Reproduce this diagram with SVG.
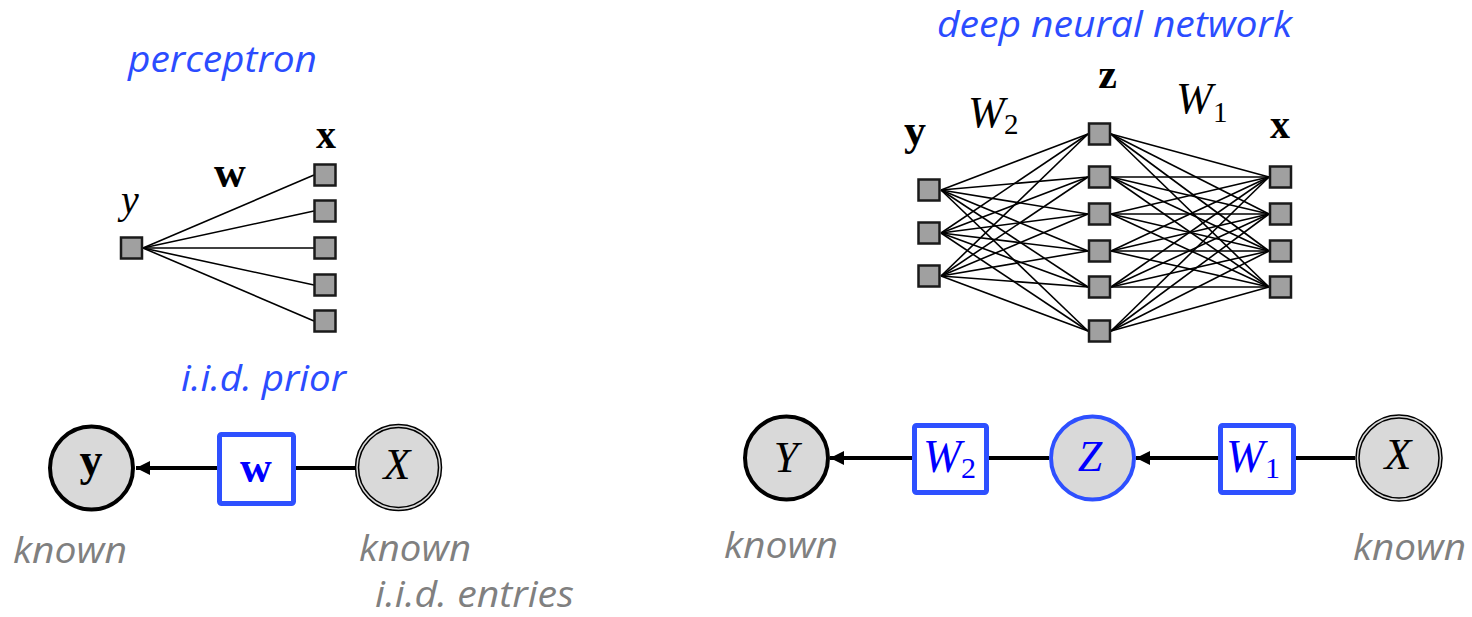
<svg xmlns="http://www.w3.org/2000/svg" width="1472" height="617" viewBox="0 0 1472 617">
<defs>
<style>
.title{font-family:"Open Sans","Liberation Sans",sans-serif;font-style:italic;fill:#2b4cff;font-size:36px}
.note{font-family:"Open Sans","Liberation Sans",sans-serif;font-style:italic;fill:#808080;font-size:36px}
.math{font-family:"Liberation Serif",serif;fill:#000}
.bold{font-weight:bold}
.it{font-style:italic}
.blue{fill:#0000ff}
.sq{fill:#a0a0a0;stroke:#1a1a1a;stroke-width:2.5}
.nl{stroke:#000;stroke-width:1.6;fill:none}
.edge{stroke:#000;stroke-width:4;fill:none}
.circ{fill:#d9d9d9;stroke:#000;stroke-width:4}
.bcirc{fill:#d9d9d9;stroke:#2e50ff;stroke-width:4}
.box{fill:#fff;stroke:#2e50ff;stroke-width:5}
.dbl{fill:none;stroke:#000;stroke-width:1.5}
</style>
<marker id="arr" markerUnits="userSpaceOnUse" markerWidth="16" markerHeight="16" refX="14" refY="7" orient="auto">
<path d="M0,0 L14,7 L0,14 Z" fill="#000"/>
</marker>
</defs>
<rect width="1472" height="617" fill="#fff"/>

<!-- titles and notes -->
<text class="title" x="128" y="72" textLength="189" lengthAdjust="spacingAndGlyphs">perceptron</text>
<text class="title" x="181" y="391" textLength="165" lengthAdjust="spacingAndGlyphs">i.i.d. prior</text>
<text class="title" x="937" y="37" textLength="355" lengthAdjust="spacingAndGlyphs">deep neural network</text>
<text class="note" x="13" y="563" textLength="114" lengthAdjust="spacingAndGlyphs">known</text>
<text class="note" x="359" y="561" textLength="112" lengthAdjust="spacingAndGlyphs">known</text>
<text class="note" x="375" y="607" font-size="35" textLength="199" lengthAdjust="spacingAndGlyphs">i.i.d. entries</text>
<text class="note" x="724" y="558" textLength="114" lengthAdjust="spacingAndGlyphs">known</text>
<text class="note" x="1353" y="560" textLength="113" lengthAdjust="spacingAndGlyphs">known</text>

<!-- connectors -->
<g id="connectors">
<g id="perceptron-edges">
<line class="nl" x1="143" y1="248" x2="314" y2="175"/>
<line class="nl" x1="143" y1="248" x2="314" y2="211"/>
<line class="nl" x1="143" y1="248" x2="314" y2="248"/>
<line class="nl" x1="143" y1="248" x2="314" y2="285"/>
<line class="nl" x1="143" y1="248" x2="314" y2="321"/>
</g>
<g id="dnn-edges-yz">
<line class="nl" x1="941" y1="190" x2="1088" y2="134"/>
<line class="nl" x1="941" y1="190" x2="1088" y2="177"/>
<line class="nl" x1="941" y1="190" x2="1088" y2="214"/>
<line class="nl" x1="941" y1="190" x2="1088" y2="251"/>
<line class="nl" x1="941" y1="190" x2="1088" y2="287"/>
<line class="nl" x1="941" y1="190" x2="1088" y2="331"/>
<line class="nl" x1="941" y1="233" x2="1088" y2="134"/>
<line class="nl" x1="941" y1="233" x2="1088" y2="177"/>
<line class="nl" x1="941" y1="233" x2="1088" y2="214"/>
<line class="nl" x1="941" y1="233" x2="1088" y2="251"/>
<line class="nl" x1="941" y1="233" x2="1088" y2="287"/>
<line class="nl" x1="941" y1="233" x2="1088" y2="331"/>
<line class="nl" x1="941" y1="276" x2="1088" y2="134"/>
<line class="nl" x1="941" y1="276" x2="1088" y2="177"/>
<line class="nl" x1="941" y1="276" x2="1088" y2="214"/>
<line class="nl" x1="941" y1="276" x2="1088" y2="251"/>
<line class="nl" x1="941" y1="276" x2="1088" y2="287"/>
<line class="nl" x1="941" y1="276" x2="1088" y2="331"/>
</g>
<g id="dnn-edges-zx">
<line class="nl" x1="1111" y1="134" x2="1269" y2="177"/>
<line class="nl" x1="1111" y1="134" x2="1269" y2="214"/>
<line class="nl" x1="1111" y1="134" x2="1269" y2="251"/>
<line class="nl" x1="1111" y1="134" x2="1269" y2="287"/>
<line class="nl" x1="1111" y1="177" x2="1269" y2="177"/>
<line class="nl" x1="1111" y1="177" x2="1269" y2="214"/>
<line class="nl" x1="1111" y1="177" x2="1269" y2="251"/>
<line class="nl" x1="1111" y1="177" x2="1269" y2="287"/>
<line class="nl" x1="1111" y1="214" x2="1269" y2="177"/>
<line class="nl" x1="1111" y1="214" x2="1269" y2="214"/>
<line class="nl" x1="1111" y1="214" x2="1269" y2="251"/>
<line class="nl" x1="1111" y1="214" x2="1269" y2="287"/>
<line class="nl" x1="1111" y1="251" x2="1269" y2="177"/>
<line class="nl" x1="1111" y1="251" x2="1269" y2="214"/>
<line class="nl" x1="1111" y1="251" x2="1269" y2="251"/>
<line class="nl" x1="1111" y1="251" x2="1269" y2="287"/>
<line class="nl" x1="1111" y1="287" x2="1269" y2="177"/>
<line class="nl" x1="1111" y1="287" x2="1269" y2="214"/>
<line class="nl" x1="1111" y1="287" x2="1269" y2="251"/>
<line class="nl" x1="1111" y1="287" x2="1269" y2="287"/>
<line class="nl" x1="1111" y1="331" x2="1269" y2="177"/>
<line class="nl" x1="1111" y1="331" x2="1269" y2="214"/>
<line class="nl" x1="1111" y1="331" x2="1269" y2="251"/>
<line class="nl" x1="1111" y1="331" x2="1269" y2="287"/>
</g>
<g id="graph-edges">
<line class="edge" x1="217" y1="468" x2="136" y2="468" marker-end="url(#arr)"/>
<line class="edge" x1="296" y1="468" x2="355" y2="468"/>
<line class="edge" x1="912" y1="458" x2="830" y2="458" marker-end="url(#arr)"/>
<line class="edge" x1="989" y1="458" x2="1049" y2="458"/>
<line class="edge" x1="1218" y1="458" x2="1136" y2="458" marker-end="url(#arr)"/>
<line class="edge" x1="1296" y1="458" x2="1355" y2="458"/>
</g>
</g>

<!-- perceptron nodes -->
<g id="p-y">
<rect class="sq" x="121" y="237.5" width="21" height="21"/>
<text class="math it" x="130" y="213" font-size="40" text-anchor="middle">y</text>
</g>
<g id="p-x">
<rect class="sq" x="314.5" y="164.5" width="21" height="21"/>
<rect class="sq" x="314.5" y="200.5" width="21" height="21"/>
<rect class="sq" x="314.5" y="237.5" width="21" height="21"/>
<rect class="sq" x="314.5" y="274.5" width="21" height="21"/>
<rect class="sq" x="314.5" y="310.5" width="21" height="21"/>
<text class="math bold" x="326" y="148" font-size="40" text-anchor="middle">x</text>
</g>
<g id="p-w">
<text class="math bold" x="230" y="187" font-size="44" text-anchor="middle">w</text>
</g>

<!-- DNN nodes -->
<g id="dnn-y">
<rect class="sq" x="918.5" y="179.5" width="21" height="21"/>
<rect class="sq" x="918.5" y="222.5" width="21" height="21"/>
<rect class="sq" x="918.5" y="265.5" width="21" height="21"/>
<text class="math bold" x="915" y="145" font-size="44" text-anchor="middle">y</text>
</g>
<g id="dnn-z">
<rect class="sq" x="1089" y="123.5" width="21" height="21"/>
<rect class="sq" x="1089" y="166.5" width="21" height="21"/>
<rect class="sq" x="1089" y="203.5" width="21" height="21"/>
<rect class="sq" x="1089" y="240.5" width="21" height="21"/>
<rect class="sq" x="1089" y="276.5" width="21" height="21"/>
<rect class="sq" x="1089" y="320.5" width="21" height="21"/>
<text class="math bold" x="1107.5" y="88" font-size="42" text-anchor="middle">z</text>
</g>
<g id="dnn-x">
<rect class="sq" x="1270" y="166.5" width="21" height="21"/>
<rect class="sq" x="1270" y="203.5" width="21" height="21"/>
<rect class="sq" x="1270" y="240.5" width="21" height="21"/>
<rect class="sq" x="1270" y="276.5" width="21" height="21"/>
<text class="math bold" x="1280" y="138" font-size="40" text-anchor="middle">x</text>
</g>
<g id="dnn-W2">
<text class="math it" x="968" y="127" font-size="44">W</text>
<text class="math" x="1004" y="134" font-size="29">2</text>
</g>
<g id="dnn-W1">
<text class="math it" x="1176" y="113" font-size="44">W</text>
<text class="math" x="1213" y="122" font-size="29">1</text>
</g>

<!-- graphical model left -->
<g id="node-y">
<circle class="circ" cx="91.5" cy="468" r="41.5"/>
<text class="math bold" x="91" y="475" font-size="46" text-anchor="middle">y</text>
</g>
<g id="node-w">
<rect class="box" x="219.5" y="434.5" width="74" height="69" rx="2"/>
<text class="math bold blue" x="256" y="482" font-size="44" text-anchor="middle">w</text>
</g>
<g id="node-X-left">
<circle fill="#d9d9d9" cx="398.5" cy="467.5" r="42.5"/>
<circle class="dbl" cx="398.5" cy="467.5" r="43"/>
<circle class="dbl" cx="398.5" cy="467.5" r="40"/>
<text class="math it" x="397" y="479" font-size="44" text-anchor="middle">X</text>
</g>

<!-- graphical model right -->
<g id="node-Y">
<circle class="circ" cx="786.5" cy="458" r="41.5"/>
<text class="math it" x="786" y="472" font-size="44" text-anchor="middle">Y</text>
</g>
<g id="node-W2">
<rect class="box" x="914.5" y="425.5" width="72" height="67" rx="2"/>
<text class="math it blue" x="923" y="472" font-size="46">W</text>
<text class="math blue" x="961" y="478" font-size="30">2</text>
</g>
<g id="node-Z">
<circle class="bcirc" cx="1092.5" cy="458" r="41.5"/>
<text class="math it blue" x="1090" y="471" font-size="44" text-anchor="middle">Z</text>
</g>
<g id="node-W1">
<rect class="box" x="1220.5" y="425.5" width="73" height="67" rx="2"/>
<text class="math it blue" x="1226" y="472" font-size="46">W</text>
<text class="math blue" x="1265" y="478" font-size="30">1</text>
</g>
<g id="node-X-right">
<circle fill="#d9d9d9" cx="1399" cy="458" r="42.5"/>
<circle class="dbl" cx="1399" cy="458" r="43"/>
<circle class="dbl" cx="1399" cy="458" r="40"/>
<text class="math it" x="1398" y="469" font-size="44" text-anchor="middle">X</text>
</g>
</svg>
